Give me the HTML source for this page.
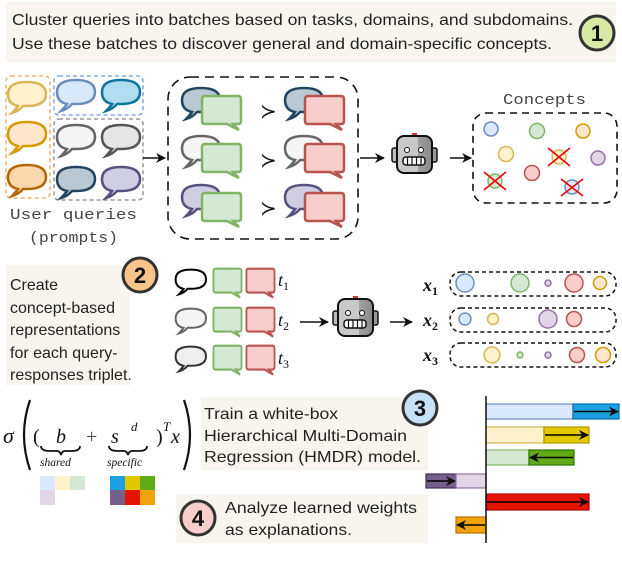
<!DOCTYPE html>
<html><head><meta charset="utf-8"><style>
body{margin:0;background:#fff}
svg{display:block}
.t{font-family:"Liberation Sans",sans-serif;font-size:16px;fill:#222}
.m{font-family:"Liberation Mono",monospace;font-size:15px;fill:#444}
.mi{font-family:"Liberation Serif",serif;font-style:italic;fill:#111}
.n{font-family:"Liberation Sans",sans-serif;font-weight:bold;font-size:22px;fill:#111}
</style></head><body>
<svg width="622" height="578" viewBox="0 0 622 578" xmlns="http://www.w3.org/2000/svg">
<defs>
<path id="ob" d="M12 26 Q2 24 2 14 Q2 2 21 2 Q40 2 40 14 Q40 26 21 26 L17 26 Q13 31 6 33 Q10 29 12 26 Z"/>
<path id="rb" d="M5 2 H38 Q41 2 41 5 V27 Q41 30 38 30 H33 L39 36 L27 30 H5 Q2 30 2 27 V5 Q2 2 5 2 Z"/>
<linearGradient id="rg" x1="0" x2="1"><stop offset="0.6" stop-color="#c8c8c8"/><stop offset="0.6" stop-color="#a0a0a0"/><stop offset="1" stop-color="#8a8a8a"/></linearGradient>
<g id="robot">
<rect x="0" y="16" width="6" height="14" rx="2" fill="#bbb" stroke="#111" stroke-width="1.5"/>
<rect x="39" y="16" width="6" height="14" rx="2" fill="#999" stroke="#111" stroke-width="1.5"/>
<rect x="20" y="1" width="5" height="4" fill="#d33"/>
<rect x="5" y="4" width="35" height="37" rx="7" fill="url(#rg)" stroke="#111" stroke-width="2"/>
<circle cx="15" cy="18" r="2.5" fill="#fff" stroke="#111"/>
<circle cx="29" cy="18" r="2.5" fill="#fff" stroke="#111"/>
<rect x="11" y="25" width="22" height="8" rx="3" fill="#fff" stroke="#111" stroke-width="1.5"/>
<path d="M15.5 25v8M20 25v8M24.5 25v8M29 25v8" stroke="#111" stroke-width="1.2"/>
</g>
<marker id="ah" markerWidth="10" markerHeight="10" refX="9" refY="5" orient="auto" markerUnits="userSpaceOnUse"><path d="M0 0 L10 5 L0 10 L3 5 Z" fill="#111"/></marker>
</defs>

<!-- Step 1 banner -->
<rect x="6" y="2" width="610" height="60" fill="#f7f5ee"/>
<text class="t" x="12" y="25" textLength="561" lengthAdjust="spacingAndGlyphs">Cluster queries into batches based on tasks, domains, and subdomains.</text>
<text class="t" x="12" y="49" textLength="540" lengthAdjust="spacingAndGlyphs">Use these batches to discover general and domain-specific concepts.</text>
<circle cx="597" cy="33" r="17" fill="#d7e9a4" stroke="#333" stroke-width="3"/>
<text class="n" x="597" y="41" text-anchor="middle">1</text>

<!-- user queries -->
<rect x="6" y="76" width="44" height="122" rx="5" fill="none" stroke="#f5a55a" stroke-width="1.3" stroke-dasharray="4 3"/>
<rect x="54" y="76" width="89" height="39" rx="5" fill="none" stroke="#6c9be0" stroke-width="1.3" stroke-dasharray="4 3"/>
<rect x="54" y="119" width="89" height="81" rx="5" fill="none" stroke="#888" stroke-width="1.3" stroke-dasharray="4 3"/>
<g stroke-width="2.5">
<use href="#ob" x="6" y="80" fill="#fff2cc" stroke="#d6b656"/>
<use href="#ob" x="6" y="120" fill="#ffe6cc" stroke="#d79b00"/>
<use href="#ob" x="6" y="163" fill="#fad7ac" stroke="#b46504"/>
<use href="#ob" x="55" y="78" fill="#dae8fc" stroke="#6c8ebf"/>
<use href="#ob" x="100" y="78" fill="#b1ddf0" stroke="#10739e"/>
<use href="#ob" x="55" y="123" fill="#f5f5f5" stroke="#666"/>
<use href="#ob" x="100" y="123" fill="#e6e6e6" stroke="#555"/>
<use href="#ob" x="55" y="165" fill="#bac8d3" stroke="#23445d"/>
<use href="#ob" x="100" y="165" fill="#d0cee2" stroke="#56517e"/>
</g>
<text class="m" x="10" y="219" textLength="127" lengthAdjust="spacingAndGlyphs">User queries</text>
<text class="m" x="29" y="242" textLength="89" lengthAdjust="spacingAndGlyphs">(prompts)</text>
<line x1="143" y1="158" x2="165" y2="158" stroke="#111" stroke-width="1.6" marker-end="url(#ah)"/>

<!-- preference box -->
<rect x="168" y="77" width="190" height="162" rx="22" fill="none" stroke="#111" stroke-width="1.6" stroke-dasharray="9 6"/>
<g stroke-width="2.5">
<use href="#ob" x="180" y="86" fill="#bac8d3" stroke="#23445d"/>
<use href="#rb" x="200" y="94" fill="#d5e8d4" stroke="#82b366"/>
<use href="#ob" x="283" y="86" fill="#bac8d3" stroke="#23445d"/>
<use href="#rb" x="303" y="94" fill="#f8cecc" stroke="#b85450"/>
<use href="#ob" x="180" y="134" fill="#f5f5f5" stroke="#666"/>
<use href="#rb" x="200" y="142" fill="#d5e8d4" stroke="#82b366"/>
<use href="#ob" x="283" y="134" fill="#f5f5f5" stroke="#666"/>
<use href="#rb" x="303" y="142" fill="#f8cecc" stroke="#b85450"/>
<use href="#ob" x="180" y="183" fill="#d0cee2" stroke="#56517e"/>
<use href="#rb" x="200" y="191" fill="#d5e8d4" stroke="#82b366"/>
<use href="#ob" x="283" y="183" fill="#d0cee2" stroke="#56517e"/>
<use href="#rb" x="303" y="191" fill="#f8cecc" stroke="#b85450"/>
</g>
<g font-family="DejaVu Sans,sans-serif" font-size="20" fill="#111">
<text x="260" y="118">≻</text><text x="260" y="167">≻</text><text x="260" y="215">≻</text>
</g>
<line x1="360" y1="158" x2="384" y2="158" stroke="#111" stroke-width="1.6" marker-end="url(#ah)"/>
<use href="#robot" x="392" y="132"/>
<line x1="450" y1="158" x2="471" y2="158" stroke="#111" stroke-width="1.6" marker-end="url(#ah)"/>

<!-- concepts -->
<text class="m" x="503" y="104" textLength="83" lengthAdjust="spacingAndGlyphs">Concepts</text>
<rect x="473" y="113" width="144" height="90" rx="13" fill="none" stroke="#111" stroke-width="1.6" stroke-dasharray="7 5"/>
<g stroke-width="1.5">
<circle cx="491" cy="129" r="7" fill="#dae8fc" stroke="#6c8ebf"/>
<circle cx="537" cy="131" r="7.5" fill="#d5e8d4" stroke="#82b366"/>
<circle cx="583" cy="131" r="7" fill="#ffe6cc" stroke="#d79b00"/>
<circle cx="506" cy="154" r="7.5" fill="#fff2cc" stroke="#d6b656"/>
<circle cx="559" cy="157" r="7" fill="#fff2cc" stroke="#d6b656"/>
<circle cx="598" cy="158" r="7" fill="#e1d5e7" stroke="#9673a6"/>
<circle cx="532" cy="173" r="7.5" fill="#f8cecc" stroke="#b85450"/>
<circle cx="495" cy="181" r="7" fill="#d5e8d4" stroke="#82b366"/>
<circle cx="572" cy="187" r="7" fill="#dae8fc" stroke="#6c8ebf"/>
</g>
<g stroke="#e00" stroke-width="1.6">
<path d="M548 148 L570 166 M570 148 L548 166"/>
<path d="M484 172 L506 190 M506 172 L484 190"/>
<path d="M561 179 L583 196 M583 179 L561 196"/>
</g>

<!-- Step 2 -->
<rect x="6" y="265" width="124" height="120" fill="#f7f5ee"/>
<circle cx="140" cy="275" r="17" fill="#f7c48c" stroke="#333" stroke-width="3"/>
<text class="n" x="140" y="283" text-anchor="middle">2</text>
<text class="t" x="10" y="290">Create</text>
<text class="t" x="10" y="313">concept-based</text>
<text class="t" x="10" y="335">representations</text>
<text class="t" x="10" y="358">for each query-</text>
<text class="t" x="10" y="380">responses triplet.</text>
<g stroke-width="2.5">
<g transform="translate(174,268) scale(0.8)"><use href="#ob" fill="#fff" stroke="#000"/></g>
<g transform="translate(212,267) scale(0.72,0.85)"><use href="#rb" fill="#d5e8d4" stroke="#82b366"/></g>
<g transform="translate(245,267) scale(0.72,0.85)"><use href="#rb" fill="#f8cecc" stroke="#b85450"/></g>
<g transform="translate(174,307) scale(0.8)"><use href="#ob" fill="#f5f5f5" stroke="#666"/></g>
<g transform="translate(212,306) scale(0.72,0.85)"><use href="#rb" fill="#d5e8d4" stroke="#82b366"/></g>
<g transform="translate(245,306) scale(0.72,0.85)"><use href="#rb" fill="#f8cecc" stroke="#b85450"/></g>
<g transform="translate(174,345) scale(0.8)"><use href="#ob" fill="#eee" stroke="#333"/></g>
<g transform="translate(212,344) scale(0.72,0.85)"><use href="#rb" fill="#d5e8d4" stroke="#82b366"/></g>
<g transform="translate(245,344) scale(0.72,0.85)"><use href="#rb" fill="#f8cecc" stroke="#b85450"/></g>
</g>
<g class="mi" font-size="18">
<text x="278" y="286">t<tspan font-size="12" dy="4" font-style="normal">1</tspan></text>
<text x="278" y="326">t<tspan font-size="12" dy="4" font-style="normal">2</tspan></text>
<text x="278" y="364">t<tspan font-size="12" dy="4" font-style="normal">3</tspan></text>
</g>
<line x1="300" y1="322" x2="328" y2="322" stroke="#111" stroke-width="1.6" marker-end="url(#ah)"/>
<use href="#robot" x="333" y="295"/>
<line x1="390" y1="322" x2="412" y2="322" stroke="#111" stroke-width="1.6" marker-end="url(#ah)"/>
<g class="mi" font-size="18" font-weight="bold">
<text x="423" y="291">x<tspan font-size="12" dy="4" font-style="normal">1</tspan></text>
<text x="423" y="326">x<tspan font-size="12" dy="4" font-style="normal">2</tspan></text>
<text x="423" y="361">x<tspan font-size="12" dy="4" font-style="normal">3</tspan></text>
</g>
<g fill="none" stroke="#111" stroke-width="1.5" stroke-dasharray="4 3">
<rect x="450" y="272" width="166" height="24" rx="11"/>
<rect x="450" y="308" width="166" height="24" rx="11"/>
<rect x="450" y="343" width="166" height="24" rx="11"/>
</g>
<g stroke-width="1.5">
<circle cx="465" cy="283" r="9" fill="#dae8fc" stroke="#6c8ebf"/>
<circle cx="520" cy="283" r="9" fill="#d5e8d4" stroke="#82b366"/>
<circle cx="548" cy="283" r="3" fill="#e1d5e7" stroke="#9673a6"/>
<circle cx="574" cy="283" r="9" fill="#f8cecc" stroke="#b85450"/>
<circle cx="600" cy="283" r="6.5" fill="#ffe6cc" stroke="#d79b00"/>
<circle cx="465" cy="319" r="6" fill="#dae8fc" stroke="#6c8ebf"/>
<circle cx="493" cy="319" r="5.5" fill="#fff2cc" stroke="#d6b656"/>
<circle cx="548" cy="319" r="9" fill="#e1d5e7" stroke="#9673a6"/>
<circle cx="574" cy="319" r="7.5" fill="#f8cecc" stroke="#b85450"/>
<circle cx="492" cy="355" r="8" fill="#fff2cc" stroke="#d6b656"/>
<circle cx="520" cy="355" r="3" fill="#d5e8d4" stroke="#82b366"/>
<circle cx="548" cy="355" r="3" fill="#e1d5e7" stroke="#9673a6"/>
<circle cx="577" cy="355" r="7.5" fill="#f8cecc" stroke="#b85450"/>
<circle cx="603" cy="355" r="7.5" fill="#ffe6cc" stroke="#d79b00"/>
</g>

<!-- formula -->
<path d="M30 400 Q18 435 30 470" fill="none" stroke="#111" stroke-width="2.2"/>
<path d="M184 400 Q196 435 184 470" fill="none" stroke="#111" stroke-width="2.2"/>
<g class="mi">
<text x="3" y="443" font-size="22">σ</text>
<text x="33" y="443" font-size="20" font-style="normal">(</text>
<text x="56" y="443" font-size="20">b</text>
<text x="86" y="443" font-size="20" font-style="normal" fill="#444">+</text>
<text x="111" y="443" font-size="20">s</text>
<text x="131" y="431" font-size="13">d</text>
<text x="156" y="443" font-size="20" font-style="normal">)</text>
<text x="163" y="431" font-size="13">T</text>
<text x="171" y="443" font-size="20">x</text>
<text x="40" y="466" font-size="11.5">shared</text>
<text x="107" y="466" font-size="11.5">specific</text>
</g>
<g fill="none" stroke="#111" stroke-width="1.8">
<path d="M41 446 Q41 451 50 451 L57 451 Q60 451 61 455 Q62 451 65 451 L72 451 Q80 451 80 446"/>
<path d="M109 446 Q109 451 118 451 L124 451 Q127 451 128 455 Q129 451 132 451 L139 451 Q147 451 147 446"/>
</g>
<rect x="40" y="476" width="15" height="14" fill="#dae8fc"/>
<rect x="55" y="476" width="15" height="14" fill="#fff2cc"/>
<rect x="70" y="476" width="15" height="14" fill="#d5e8d4"/>
<rect x="40" y="490" width="15" height="15" fill="#e1d5e7"/>
<rect x="110" y="476" width="15" height="14" fill="#1ba1e2"/>
<rect x="125" y="476" width="15" height="14" fill="#e3c800"/>
<rect x="140" y="476" width="15" height="14" fill="#60a917"/>
<rect x="110" y="490" width="15" height="15" fill="#76608a"/>
<rect x="125" y="490" width="15" height="15" fill="#e51400"/>
<rect x="140" y="490" width="15" height="15" fill="#f0a30a"/>

<!-- step 3 -->
<rect x="201" y="397" width="227" height="73" fill="#f7f5ee"/>
<circle cx="420" cy="408" r="17" fill="#c7e1f8" stroke="#333" stroke-width="3"/>
<text class="n" x="420" y="416" text-anchor="middle">3</text>
<text class="t" x="204" y="419" textLength="134" lengthAdjust="spacingAndGlyphs">Train a white-box</text>
<text class="t" x="204" y="441" textLength="203" lengthAdjust="spacingAndGlyphs">Hierarchical Multi-Domain</text>
<text class="t" x="204" y="462" textLength="217" lengthAdjust="spacingAndGlyphs">Regression (HMDR) model.</text>

<!-- step 4 -->
<rect x="176" y="494" width="252" height="49" fill="#f7f5ee"/>
<circle cx="198" cy="518" r="17" fill="#f8cecc" stroke="#333" stroke-width="3"/>
<text class="n" x="198" y="526" text-anchor="middle">4</text>
<text class="t" x="225" y="513" textLength="192" lengthAdjust="spacingAndGlyphs">Analyze learned weights</text>
<text class="t" x="225" y="535" textLength="127" lengthAdjust="spacingAndGlyphs">as explanations.</text>

<!-- bars -->
<g stroke-width="1.2">
<rect x="486" y="404" width="87" height="15" fill="#dae8fc" stroke="#6c8ebf"/>
<rect x="573" y="404" width="46" height="15" fill="#1ba1e2" stroke="#006eaf"/>
<rect x="486" y="427" width="58" height="16" fill="#fff2cc" stroke="#d6b656"/>
<rect x="544" y="427" width="45" height="16" fill="#e3c800" stroke="#b09500"/>
<rect x="486" y="450" width="43" height="15" fill="#d5e8d4" stroke="#82b366"/>
<rect x="529" y="450" width="45" height="15" fill="#60a917" stroke="#2d7600"/>
<rect x="426" y="474" width="30" height="14" fill="#76608a" stroke="#432d57"/>
<rect x="456" y="474" width="30" height="14" fill="#e1d5e7" stroke="#9673a6"/>
<rect x="486" y="494" width="103" height="16" fill="#e51400" stroke="#b20000"/>
<rect x="456" y="517" width="30" height="16" fill="#f0a30a" stroke="#bd7000"/>
</g>
<g stroke="#000" stroke-width="1.6">
<line x1="574" y1="411.5" x2="618" y2="411.5" marker-end="url(#ah)"/>
<line x1="545" y1="435" x2="588" y2="435" marker-end="url(#ah)"/>
<line x1="573" y1="457.5" x2="530" y2="457.5" marker-end="url(#ah)"/>
<line x1="427" y1="481" x2="455" y2="481" marker-end="url(#ah)"/>
<line x1="487" y1="502" x2="588" y2="502" marker-end="url(#ah)"/>
<line x1="485" y1="525" x2="457" y2="525" marker-end="url(#ah)"/>
</g>
<line x1="486" y1="396" x2="486" y2="543" stroke="#111" stroke-width="1.5"/>
</svg>
</body></html>
